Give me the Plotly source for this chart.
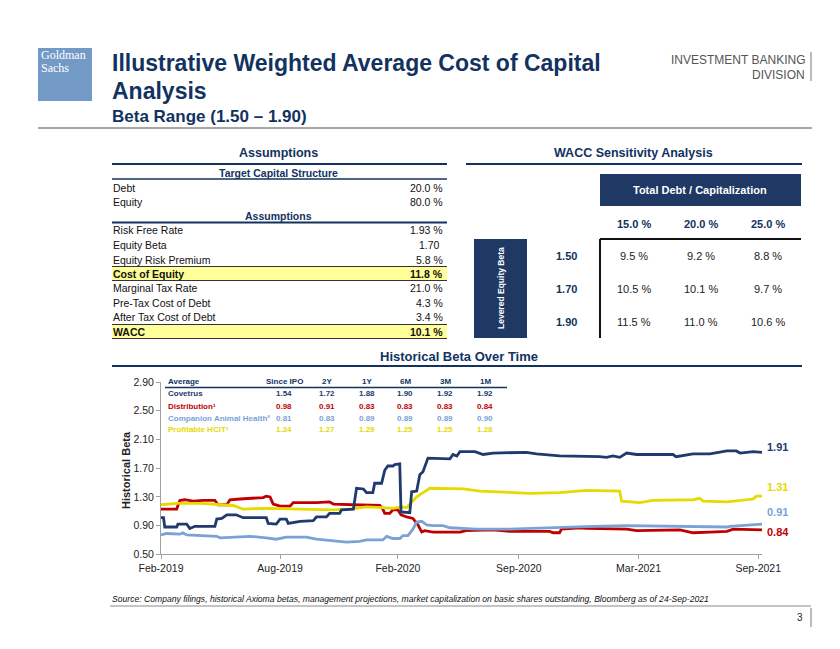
import plotly.graph_objects as go

W, H = 840, 649
OX, OY = 8, 8  # page body margin in the browser


def fx(px):
    return (px - OX) / W


def fy(py):
    return 1 - (py - OY) / H


NAVY = "#12325f"
BOX = "#1f3864"
BODY = "Liberation Sans, Arial, sans-serif"

# ---------------- data ----------------
covetrus_dates = ["2019-02-08", "2019-02-12", "2019-02-14", "2019-03-05", "2019-03-07", "2019-03-21",
                  "2019-03-26", "2019-04-03", "2019-05-05", "2019-05-08", "2019-05-16", "2019-05-24",
                  "2019-06-08", "2019-06-19", "2019-07-26", "2019-07-29", "2019-08-11", "2019-08-17",
                  "2019-08-27", "2019-08-30", "2019-09-18", "2019-10-09", "2019-10-14", "2019-10-30",
                  "2019-11-04", "2019-11-20", "2019-11-23", "2019-12-12", "2019-12-17", "2019-12-28",
                  "2020-01-02", "2020-01-12", "2020-01-15", "2020-01-26", "2020-01-31", "2020-02-05",
                  "2020-02-13", "2020-02-16", "2020-02-24", "2020-02-26", "2020-03-11", "2020-03-14",
                  "2020-03-22", "2020-03-27", "2020-04-01", "2020-04-09", "2020-05-14", "2020-05-19",
                  "2020-05-25", "2020-05-30", "2020-06-23", "2020-07-06", "2020-07-22", "2020-09-13",
                  "2020-09-29", "2020-11-05", "2021-01-08", "2021-01-19", "2021-01-29", "2021-02-09",
                  "2021-02-20", "2021-03-08", "2021-05-05", "2021-05-10", "2021-06-06", "2021-07-03",
                  "2021-07-30", "2021-08-14", "2021-08-20", "2021-09-10", "2021-09-24"]
covetrus_beta = [1.01, 1.01, 0.88, 0.88, 0.92, 0.92,
                 0.86, 0.89, 0.89, 0.99, 1.00, 1.05,
                 1.05, 1.01, 1.01, 0.93, 0.92, 0.99,
                 0.99, 0.93, 0.96, 0.97, 1.02, 1.02,
                 1.07, 1.07, 1.12, 1.13, 1.42, 1.41,
                 1.36, 1.36, 1.49, 1.49, 1.67, 1.73,
                 1.73, 1.75, 1.76, 1.09, 1.08, 1.37,
                 1.38, 1.61, 1.65, 1.84, 1.83, 1.89,
                 1.87, 1.93, 1.93, 1.89, 1.91, 1.92,
                 1.90, 1.87, 1.86, 1.85, 1.87, 1.85,
                 1.91, 1.89, 1.89, 1.86, 1.90, 1.90,
                 1.94, 1.94, 1.91, 1.93, 1.92]

distribution_dates = ["2019-02-08", "2019-03-05", "2019-03-10", "2019-03-18", "2019-03-31", "2019-04-16",
                      "2019-05-05", "2019-05-10", "2019-05-24", "2019-05-29", "2019-06-14", "2019-07-05",
                      "2019-07-21", "2019-07-26", "2019-08-01", "2019-08-06", "2019-08-17", "2019-09-02",
                      "2019-09-07", "2019-10-14", "2019-11-04", "2019-11-10", "2019-12-12", "2020-01-02",
                      "2020-01-23", "2020-01-28", "2020-01-31", "2020-02-08", "2020-02-13", "2020-02-21",
                      "2020-02-26", "2020-03-06", "2020-03-16", "2020-03-24", "2020-03-30", "2020-04-04",
                      "2020-04-17", "2020-05-30", "2020-06-09", "2020-07-22", "2020-08-17", "2020-10-20",
                      "2020-10-26", "2020-11-05", "2020-11-08", "2020-12-07", "2020-12-18", "2021-02-20",
                      "2021-03-08", "2021-05-16", "2021-06-06", "2021-07-03", "2021-07-30", "2021-08-09",
                      "2021-09-24"]
distribution_beta = [1.13, 1.13, 1.25, 1.26, 1.24, 1.25,
                     1.25, 1.19, 1.19, 1.26, 1.27, 1.28,
                     1.29, 1.31, 1.30, 1.20, 1.17, 1.17,
                     1.22, 1.22, 1.23, 1.20, 1.19, 1.18,
                     1.18, 1.13, 1.07, 1.07, 1.12, 1.12,
                     1.05, 1.02, 1.00, 0.91, 0.81, 0.83,
                     0.81, 0.81, 0.83, 0.84, 0.82, 0.82,
                     0.80, 0.80, 0.85, 0.87, 0.86, 0.85,
                     0.83, 0.84, 0.80, 0.81, 0.82, 0.85,
                     0.84]

companion_dates = ["2019-02-08", "2019-02-17", "2019-03-10", "2019-03-15", "2019-03-21", "2019-04-11",
                   "2019-05-08", "2019-05-13", "2019-06-03", "2019-06-30", "2019-07-26", "2019-08-11",
                   "2019-08-27", "2019-09-28", "2019-10-14", "2019-11-10", "2019-12-01", "2019-12-22",
                   "2020-01-02", "2020-01-28", "2020-02-03", "2020-02-13", "2020-02-24", "2020-02-29",
                   "2020-03-08", "2020-03-16", "2020-03-22", "2020-03-30", "2020-04-07", "2020-04-17",
                   "2020-05-03", "2020-05-14", "2020-06-09", "2020-06-25", "2020-08-17", "2020-09-13",
                   "2020-11-05", "2020-12-28", "2021-02-20", "2021-04-14", "2021-06-17", "2021-07-30",
                   "2021-08-04", "2021-09-24"]
companion_beta = [0.77, 0.79, 0.78, 0.80, 0.77, 0.76,
                  0.75, 0.73, 0.74, 0.75, 0.73, 0.71,
                  0.74, 0.74, 0.71, 0.69, 0.67, 0.68,
                  0.70, 0.70, 0.75, 0.72, 0.72, 0.76,
                  0.76, 0.85, 0.95, 0.96, 0.91, 0.90,
                  0.90, 0.87, 0.86, 0.85, 0.85, 0.86,
                  0.87, 0.89, 0.90, 0.89, 0.88, 0.88,
                  0.89, 0.92]

hcit_dates = ["2019-02-08", "2019-03-05", "2019-04-11", "2019-05-08", "2019-06-03", "2019-06-19",
              "2019-07-26", "2019-09-18", "2019-10-14", "2019-11-10", "2019-12-06", "2020-01-02",
              "2020-01-28", "2020-02-13", "2020-02-26", "2020-03-06", "2020-03-22", "2020-04-12",
              "2020-06-04", "2020-07-01", "2020-09-18", "2020-11-05", "2020-12-18", "2021-02-09",
              "2021-02-12", "2021-03-13", "2021-04-03", "2021-06-06", "2021-06-17", "2021-06-22",
              "2021-07-30", "2021-08-25", "2021-09-10", "2021-09-15", "2021-09-24"]
hcit_beta = [1.19, 1.21, 1.21, 1.20, 1.18, 1.13,
             1.14, 1.13, 1.12, 1.12, 1.13, 1.16,
             1.15, 1.14, 1.16, 1.15, 1.30, 1.42,
             1.41, 1.38, 1.35, 1.36, 1.39, 1.38,
             1.24, 1.22, 1.25, 1.26, 1.28, 1.24,
             1.23, 1.25, 1.27, 1.31, 1.31]

end_labels = ["1.91", "0.84", "0.91", "1.31"]

x_tick_dates = ["2019-02-08", "2019-08-17", "2020-02-21", "2020-09-01", "2021-03-11", "2021-09-18"]
x_tick_labels = ["Feb-2019", "Aug-2019", "Feb-2020", "Sep-2020", "Mar-2021", "Sep-2021"]
y_tick_values = [0.50, 0.90, 1.30, 1.70, 2.10, 2.50, 2.90]

avg_headers = ["Since IPO", "2Y", "1Y", "6M", "3M", "1M"]
avg_names = ["Covetrus", "Distribution¹", "Companion Animal Health²", "Profitable HCIT³"]
covetrus_avg = [1.54, 1.72, 1.88, 1.90, 1.92, 1.92]
distribution_avg = [0.98, 0.91, 0.83, 0.83, 0.83, 0.84]
companion_avg = [0.81, 0.83, 0.89, 0.89, 0.89, 0.90]
hcit_avg = [1.24, 1.27, 1.29, 1.25, 1.25, 1.28]

cap_labels = ["Debt", "Equity"]
cap_values = ["20.0 %", "80.0 %"]
assump_labels = ["Risk Free Rate", "Equity Beta", "Equity Risk Premium", "Cost of Equity",
                 "Marginal Tax Rate", "Pre-Tax Cost of Debt", "After Tax Cost of Debt", "WACC"]
assump_values = ["1.93 %", "1.70", "5.8 %", "11.8 %", "21.0 %", "4.3 %", "3.4 %", "10.1 %"]

sens_betas = ["1.50", "1.70", "1.90"]
sens_debt_caps = ["15.0 %", "20.0 %", "25.0 %"]
sens_wacc = [[9.5, 9.2, 8.8],
             [10.5, 10.1, 9.7],
             [11.5, 11.0, 10.6]]

# ---------------- colours ----------------
C_COV = "#1f3a6e"
C_DIST = "#c00000"
C_COMP = "#7aa2d6"
C_HCIT = "#e6da00"

fig = go.Figure()
series = [
    ("Distribution", distribution_dates, distribution_beta, C_DIST),
    ("Companion Animal Health", companion_dates, companion_beta, C_COMP),
    ("Profitable HCIT", hcit_dates, hcit_beta, C_HCIT),
    ("Covetrus", covetrus_dates, covetrus_beta, C_COV),
]
for name, d, v, c in series:
    fig.add_trace(go.Scatter(x=d, y=v, mode="lines", name=name, showlegend=False,
                             line=dict(color=c, width=2.8), hoverinfo="skip"))

annotations = []
shapes = []


def txt(text, x, y, size=10.5, color="#111111", bold=False, italic=False, anchor="left",
        family=BODY, angle=0):
    if bold:
        text = "<b>" + text + "</b>"
    if italic:
        text = "<i>" + text + "</i>"
    annotations.append(dict(text=text, x=fx(x), y=fy(y), xref="paper", yref="paper",
                            xanchor=anchor, yanchor="middle", showarrow=False, textangle=angle,
                            borderpad=0, font=dict(size=size, color=color, family=family)))


def hline(x0, x1, y, color, w=1):
    shapes.append(dict(type="line", xref="paper", yref="paper", x0=fx(x0), x1=fx(x1),
                       y0=fy(y), y1=fy(y), line=dict(color=color, width=w)))


def vline(x, y0, y1, color, w=1):
    shapes.append(dict(type="line", xref="paper", yref="paper", x0=fx(x), x1=fx(x),
                       y0=fy(y0), y1=fy(y1), line=dict(color=color, width=w)))


def rect(x0, y0, x1, y1, fill):
    shapes.append(dict(type="rect", xref="paper", yref="paper", x0=fx(x0), x1=fx(x1),
                       y0=fy(y1), y1=fy(y0), fillcolor=fill, line=dict(width=0), layer="below"))


# ---------------- header ----------------
rect(38, 48, 92, 101, "#7399c6")
txt("Goldman", 40, 54.5, size=12, color="white", family="Liberation Serif, serif")
txt("Sachs", 40, 68.5, size=12, color="white", family="Liberation Serif, serif")
txt("Illustrative Weighted Average Cost of Capital", 111, 63, size=23, color=NAVY, bold=True)
txt("Analysis", 111, 91, size=23, color=NAVY, bold=True)
txt("Beta Range (1.50 – 1.90)", 111, 116, size=17, color=NAVY, bold=True)
txt("INVESTMENT BANKING", 806, 60, size=12, color="#555555", anchor="right")
txt("DIVISION", 806, 75, size=12, color="#555555", anchor="right")
vline(811, 52, 81, "#777777", 1)
hline(38, 812, 128, "#8a8a8a", 1.5)

# ---------------- assumptions table ----------------
txt("Assumptions", 278, 153, size=12.5, color=NAVY, bold=True, anchor="center")
hline(112, 447, 164, NAVY, 2)
txt("Target Capital Structure", 278, 173, size=10.5, color=NAVY, bold=True, anchor="center")
hline(112, 447, 179, NAVY, 1.5)
cap_y = [187.5, 201.5]
for lab, val, yy in zip(cap_labels, cap_values, cap_y):
    txt(lab, 112, yy)
    txt(val, 444, yy, anchor="right")
txt("Assumptions", 278, 216, size=10.5, color=NAVY, bold=True, anchor="center")
hline(112, 447, 222.5, NAVY, 2)
rect(112, 266.5, 447, 280.5, "#ffff99")
rect(112, 324.5, 447, 338.5, "#ffff99")
hline(112, 447, 266.5, "#333333", 1.2)
hline(112, 447, 280.5, "#333333", 1.2)
hline(112, 447, 324.5, "#333333", 1.2)
hline(112, 447, 338.5, "#333333", 1.2)
assump_y = [230, 245, 259.5, 273.5, 288, 302.5, 316.8, 331.5]
for lab, val, yy in zip(assump_labels, assump_values, assump_y):
    hl = lab in ("Cost of Equity", "WACC")
    txt(lab, 112, yy, bold=hl)
    txt(val, 444 if "%" in val else 441, yy, bold=hl, anchor="right")

# ---------------- WACC sensitivity ----------------
txt("WACC Sensitivity Analysis", 633, 153, size=12.5, color=NAVY, bold=True, anchor="center")
hline(466, 802, 164, NAVY, 2)
rect(600, 174, 801, 206, BOX)
txt("Total Debt / Capitalization", 700, 190, size=11, color="white", bold=True, anchor="center")
col_x = [634, 700.5, 767.5]
for lab, xx in zip(sens_debt_caps, col_x):
    txt(lab, xx, 223.5, size=11, color=NAVY, bold=True, anchor="center")
hline(600, 801, 239, "#111111", 2)
vline(600, 239, 338, "#111111", 2)
rect(474, 239, 527, 338, BOX)
txt("Levered Equity Beta", 500.5, 288.5, size=8.5, color="white", bold=True, anchor="center", angle=-90)
row_y = [256, 289, 322]
for b, yy, rowv in zip(sens_betas, row_y, sens_wacc):
    txt(b, 566, yy, size=11, color=NAVY, bold=True, anchor="center")
    for v, xx in zip(rowv, col_x):
        txt(f"{v:.1f} %", xx, yy, size=11, color="#222222", anchor="center")

# ---------------- chart section ----------------
txt("Historical Beta Over Time", 459, 356, size=13, color=NAVY, bold=True, anchor="center")
hline(112, 802, 366, NAVY, 2)

avg_x = [284, 327, 367, 405, 445, 485]
txt("Average", 167, 381, size=8, color=NAVY, bold=True)
for h, xx in zip(avg_headers, avg_x):
    txt(h, xx, 381, size=8, color=NAVY, bold=True, anchor="center")
hline(165, 507, 387.5, NAVY, 1.5)
avg_rows = [covetrus_avg, distribution_avg, companion_avg, hcit_avg]
avg_colors = [C_COV, C_DIST, C_COMP, C_HCIT]
avg_y = [393.5, 406, 418, 429.5]
for name, vals, col, yy in zip(avg_names, avg_rows, avg_colors, avg_y):
    txt(name, 167, yy, size=8, color=col, bold=True)
    for v, xx in zip(vals, avg_x):
        txt(f"{v:.2f}", xx, yy, size=8, color=col, bold=True, anchor="center")

txt("Historical Beta", 126, 470, size=11, color="#222222", bold=True, anchor="center", angle=-90)

# end labels, anchored to each series' last data point
end_series = [(covetrus_dates, covetrus_beta, C_COV, 5),
              (distribution_dates, distribution_beta, C_DIST, -2),
              (companion_dates, companion_beta, C_COMP, 12),
              (hcit_dates, hcit_beta, C_HCIT, 9)]
for lab, (d, v, c, ys) in zip(end_labels, end_series):
    annotations.append(dict(text="<b>" + lab + "</b>", x=d[-1], y=v[-1], xref="x", yref="y",
                            xanchor="left", yanchor="middle", xshift=3, yshift=ys, showarrow=False,
                            font=dict(size=11, color=c, family=BODY)))

# ---------------- footer ----------------
txt("Source: Company filings, historical Axioma betas, management projections, market capitalization on basic "
    "shares outstanding, Bloomberg as of 24-Sep-2021", 111, 598.5, size=8.6, color="#111111", italic=True)
hline(110, 811, 606, "#8a8a8a", 1)
txt("3", 804, 617, size=10, color="#222222", anchor="right")
vline(811, 608, 627, "#777777", 1)

fig.update_layout(
    width=W, height=H, autosize=False,
    margin=dict(l=0, r=0, t=0, b=0, pad=0, autoexpand=False),
    paper_bgcolor="white", plot_bgcolor="white",
    showlegend=False,
    annotations=annotations, shapes=shapes,
    font=dict(family=BODY, size=11, color="#222222"),
    xaxis=dict(domain=[fx(161), fx(762)], type="date", automargin=False,
               range=["2019-02-08", "2021-09-24"],
               tickvals=x_tick_dates, ticktext=x_tick_labels,
               showgrid=False, zeroline=False, showline=True, linecolor="#a0a0a0", linewidth=1,
               ticks="outside", ticklen=4, tickcolor="#a0a0a0",
               tickfont=dict(size=10.5, color="#222222", family=BODY)),
    yaxis=dict(domain=[fy(554.3), fy(382)], range=[0.5, 2.9], automargin=False,
               tickvals=y_tick_values, tickformat=".2f",
               showgrid=False, zeroline=False, showline=True, linecolor="#a0a0a0", linewidth=1,
               ticks="outside", ticklen=4, tickcolor="#a0a0a0",
               tickfont=dict(size=10.5, color="#222222", family=BODY)),
)

fig.write_html("out.html")
